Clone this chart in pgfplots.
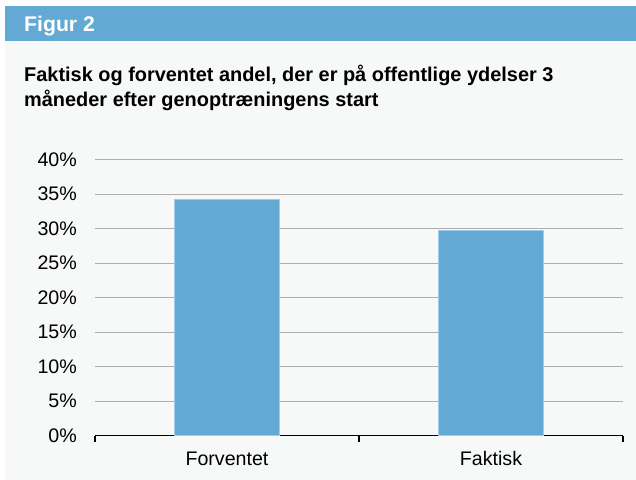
\documentclass[border=0pt]{standalone}
\usepackage{pgfplots}
\pgfplotsset{compat=1.18}
\usepackage{fontspec}
\setmainfont{Liberation Sans}
\definecolor{hdrblue}{RGB}{98,169,212}
\definecolor{barblue}{RGB}{99,169,213}
\definecolor{bg}{RGB}{247,248,248}
\definecolor{gridgray}{RGB}{175,175,175}
\begin{document}
\begin{tikzpicture}[x=1bp,y=1bp]
\path[use as bounding box] (0,0) rectangle (636,480);
\fill[white] (0,0) rectangle (636,480);
\fill[bg] (5,0) rectangle (636,438.5);
\fill[hdrblue] (5,438.5) rectangle (636,474);
\node[anchor=base west,text=white,font=\bfseries\fontsize{21.3}{24}\selectfont,inner sep=0] at (24,448) {Figur 2};
\node[anchor=base west,font=\bfseries\fontsize{20}{25}\selectfont,inner sep=0] at (24,398.3) {Faktisk og forventet andel, der er på offentlige ydelser 3};
\node[anchor=base west,font=\bfseries\fontsize{20}{25}\selectfont,inner sep=0] at (24,373.3) {måneder efter genoptræningens start};
\begin{axis}[
  at={(95bp,44.3bp)}, anchor=south west,
  scale only axis, width=528bp, height=276bp,
  ybar, bar width=105bp,
  xmin=-0.5, xmax=1.5, ymin=0, ymax=40,
  ytick={0,5,...,40},
  yticklabel={\pgfmathprintnumber{\tick}\%},
  /pgf/number format/assume math mode=true,
  ymajorgrids, grid style={gridgray, line width=0.8bp},
  axis y line*=left,
  y axis line style={draw=none},
  major y tick style={draw=none},
  axis x line*=bottom,
  x axis line style={black, line width=1.4bp, -},
  xtick={0,1}, xticklabels={Forventet,Faktisk},
  major x tick style={draw=none},
  minor xtick={-0.5,0.5,1.5},
  minor x tick style={black, line width=1.2bp},
  tick align=outside,
  major tick length=0bp,
  minor tick length=6bp,
  xticklabel style={font=\fontsize{19.7}{22}\selectfont, inner sep=0, anchor=base, yshift=-30bp},
  yticklabel style={font=\fontsize{19.7}{22}\selectfont, inner sep=0, anchor=east, xshift=-18bp},
  every tick label/.append style={text=black},
  clip=false,
]
\addplot[fill=barblue, draw=barblue!60!white, line width=0.6bp] coordinates {(0,34.3) (1,29.8)};
\end{axis}
\end{tikzpicture}
\end{document}
